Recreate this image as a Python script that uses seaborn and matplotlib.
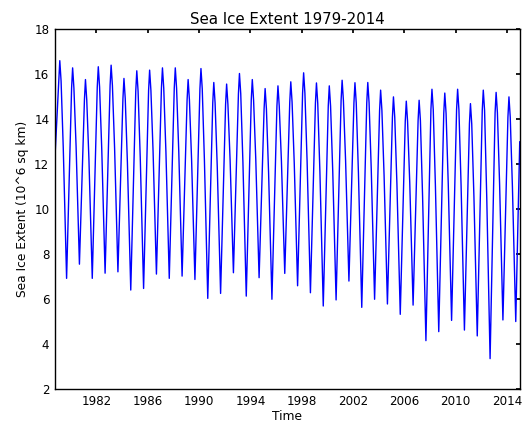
import matplotlib
matplotlib.use("Agg")
import matplotlib.pyplot as plt
import seaborn as sns
import pandas as pd

# Data (10^6 sq km)
years = list(range(1979, 2015))
annual_max = [16.60, 16.28, 15.76, 16.33, 16.40, 15.81, 16.15, 16.18, 16.28, 16.28,
              15.76, 16.25, 15.63, 15.56, 16.03, 15.76, 15.36, 15.48, 15.66, 16.06,
              15.61, 15.48, 15.73, 15.62, 15.63, 15.29, 14.99, 14.80, 14.84, 15.33,
              15.16, 15.33, 14.69, 15.29, 15.19, 14.99]
# value just around the winter peak (rounded top of each cycle)
winter_shoulder = [15.70, 15.38, 14.86, 15.43, 15.50, 14.91, 15.25, 15.28, 15.38, 15.38,
                   14.86, 15.35, 14.73, 14.66, 15.13, 14.86, 14.46, 14.58, 14.76, 15.16,
                   14.71, 14.58, 14.83, 14.72, 14.73, 14.39, 14.09, 13.90, 13.94, 14.43,
                   14.26, 14.43, 13.79, 14.39, 14.29, 14.09]
# early-summer value on the melting limb
early_summer = [12.73, 12.79, 12.22, 12.66, 12.72, 12.05, 12.28, 12.55, 12.54, 12.58,
                12.20, 12.16, 11.88, 12.20, 12.07, 12.24, 11.61, 12.14, 12.03, 12.15,
                11.64, 11.67, 12.16, 11.62, 11.77, 11.49, 11.12, 11.17, 10.56, 11.02,
                11.12, 11.05, 10.56, 10.51, 11.14, 10.99]
annual_min = [6.92, 7.55, 6.92, 7.15, 7.21, 6.40, 6.47, 7.11, 6.92, 7.02,
              6.87, 6.03, 6.25, 7.17, 6.13, 6.95, 5.99, 7.14, 6.59, 6.28,
              5.69, 5.96, 6.80, 5.63, 5.99, 5.78, 5.32, 5.73, 4.15, 4.55,
              5.05, 4.62, 4.36, 3.35, 5.07, 5.00]
start_value = 12.6
end_value = 13.0

yticks = [2, 4, 6, 8, 10, 12, 14, 16, 18]
xticks = [1982, 1986, 1990, 1994, 1998, 2002, 2006, 2010, 2014]

# Build the time series through each year's seasonal cycle
t, v = [1978.80], [start_value]
for y, sh, mx, su, mn in zip(years, winter_shoulder, annual_max, early_summer, annual_min):
    t += [y + 0.07, y + 0.15, y + 0.25, y + 0.42, y + 0.68]
    v += [sh, mx, sh, su, mn]
t.append(2014.99)
v.append(end_value)
df = pd.DataFrame({"Time": t, "Extent": v})

sns.set_theme(style="white")
plt.rcParams.update({
    "font.family": ["DejaVu Sans"],
    "xtick.direction": "in", "ytick.direction": "in",
    "xtick.top": True, "ytick.right": True,
    "xtick.major.size": 3, "ytick.major.size": 3,
    "xtick.color": "black", "ytick.color": "black",
    "axes.edgecolor": "black", "axes.linewidth": 1.0,
    "text.color": "black", "axes.labelcolor": "black",
})

fig = plt.figure(figsize=(5.23, 4.23), dpi=100)
ax = fig.add_axes([0.105, 0.0804, 0.889, 0.8506])
sns.lineplot(data=df, x="Time", y="Extent", color="blue", linewidth=1.0,
             sort=False, estimator=None, ax=ax)

ax.set_xlim(1978.77, 2015.0)
ax.set_ylim(2, 18)
ax.set_xticks(xticks)
ax.set_xticklabels([str(x) for x in xticks])
ax.set_yticks(yticks)
ax.set_yticklabels([str(y) for y in yticks])
ax.tick_params(labelsize=8.6, pad=4)
ax.set_xlabel("Time", fontsize=8.8, labelpad=1.5)
ax.set_ylabel("Sea Ice Extent (10^6 sq km)", fontsize=8.8)
ax.set_title("Sea Ice Extent 1979-2014", fontsize=10.8, pad=4)
for s in ax.spines.values():
    s.set_visible(True)
    s.set_color("black")

fig.savefig("out.png", dpi=100, facecolor="white")
